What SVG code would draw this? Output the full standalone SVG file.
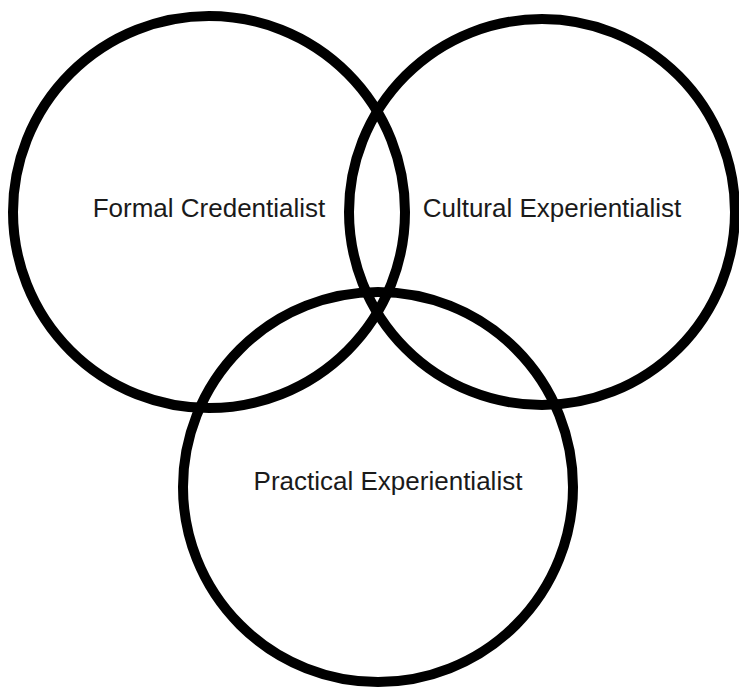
<svg xmlns="http://www.w3.org/2000/svg" width="739" height="688" viewBox="0 0 739 688">
<style>
.c{fill:none;stroke:#000;stroke-width:10}
.t{font-family:"Liberation Sans",Arial,sans-serif;font-size:26px;fill:#1a1a1a;text-anchor:middle}
</style>
<rect width="739" height="688" fill="#fff"/>
<g id="formal"><circle class="c" cx="209" cy="212" r="196"/><text class="t" x="209" y="217">Formal Credentialist</text></g>
<g id="cultural"><circle class="c" cx="542" cy="212" r="193"/><text class="t" x="552" y="217">Cultural Experientialist</text></g>
<g id="practical"><circle class="c" cx="378" cy="487" r="195"/><text class="t" x="388" y="490">Practical Experientialist</text></g>
<g id="connectors"></g>
</svg>
